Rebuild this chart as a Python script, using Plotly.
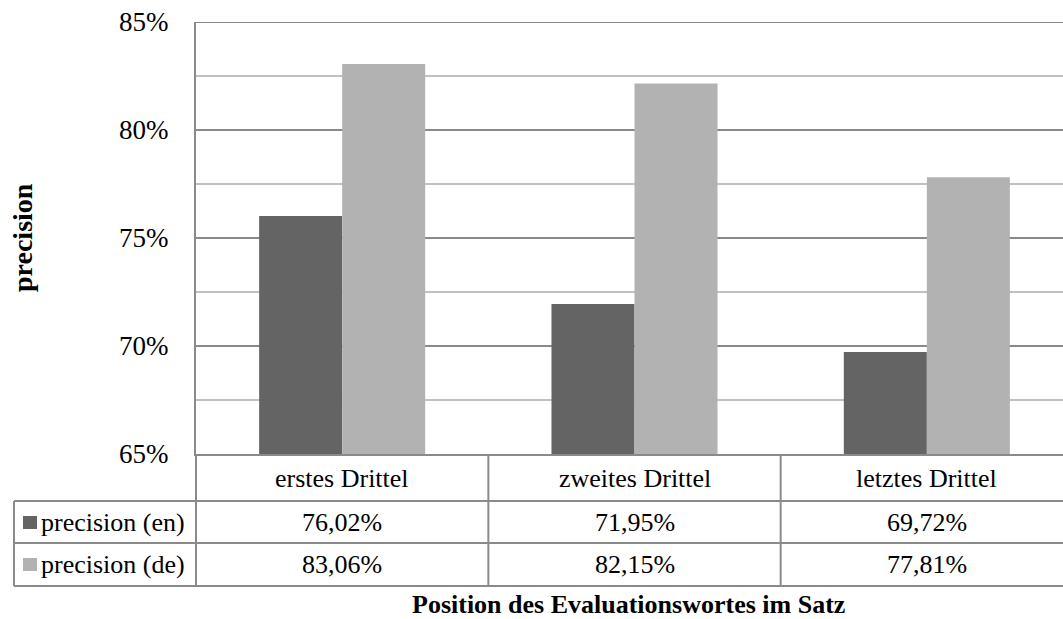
import plotly.graph_objects as go

# Data
categories = ["erstes Drittel", "zweites Drittel", "letztes Drittel"]
series_names = ["precision (en)", "precision (de)"]
precision_en = [76.02, 71.95, 69.72]
precision_de = [83.06, 82.15, 77.81]
series_values = [precision_en, precision_de]
series_colors = ["#646464", "#b2b2b2"]
y_min, y_max = 65, 85

FONT = "Liberation Serif, Times New Roman, serif"
W, H = 1063, 619
L, T, B = 196, 22, 165          # plot area margins (px)
PW, PH = W - L, H - T - B       # plot area size (px)
TXT = 26

def px_x(p):
    return (p - L) / PW

def px_y(p):
    return (H - B - p) / PH

fig = go.Figure()
xs = list(range(len(categories)))
for name, vals, col in zip(series_names, series_values, series_colors):
    fig.add_trace(go.Bar(x=xs, y=vals, name=name, marker_color=col,
                         marker_line_width=0, showlegend=False))

line_col = "#8a8a8a"
shapes = []
annotations = []

# top gridline of the plot area
shapes.append(dict(type="line", xref="paper", yref="y", x0=0, x1=1.02, y0=y_max, y1=y_max,
                   line=dict(color="#898989", width=2)))

# data table rows (pixel y of the horizontal rules)
row_lines = [501, 543, 586]
for yp in row_lines:
    shapes.append(dict(type="line", xref="paper", yref="paper",
                       x0=px_x(14), x1=1.02, y0=px_y(yp), y1=px_y(yp),
                       line=dict(color=line_col, width=2)))
# vertical rules: axis line extension, legend column border, category separators
shapes.append(dict(type="line", xref="paper", yref="paper", x0=0, x1=0,
                   y0=0, y1=px_y(586), line=dict(color=line_col, width=2)))
shapes.append(dict(type="line", xref="paper", yref="paper", x0=px_x(14), x1=px_x(14),
                   y0=px_y(501), y1=px_y(586), line=dict(color=line_col, width=2)))
for k in range(len(categories) - 1):
    shapes.append(dict(type="line", xref="x", yref="paper", x0=k + 0.5, x1=k + 0.5,
                       y0=0, y1=px_y(586), line=dict(color=line_col, width=2)))

# category header row
for i, c in enumerate(categories):
    annotations.append(dict(x=i, y=px_y(478), xref="x", yref="paper", text=c,
                            xanchor="center", yanchor="middle", showarrow=False,
                            font=dict(size=TXT, color="#000000", family=FONT)))

# value rows with legend keys
row_centers = [522, 564]
for r, (name, vals, col) in enumerate(zip(series_names, series_values, series_colors)):
    yc = row_centers[r]
    shapes.append(dict(type="rect", xref="paper", yref="paper",
                       x0=px_x(23), x1=px_x(37), y0=px_y(yc + 7), y1=px_y(yc - 6),
                       fillcolor=col, line=dict(width=0)))
    annotations.append(dict(x=px_x(39), y=px_y(yc), xref="paper", yref="paper", text=name,
                            xanchor="left", yanchor="middle", showarrow=False,
                            font=dict(size=TXT, color="#000000", family=FONT)))
    for i, v in enumerate(vals):
        label = f"{v:.2f}".replace(".", ",") + "%"
        annotations.append(dict(x=i, y=px_y(yc), xref="x", yref="paper", text=label,
                                xanchor="center", yanchor="middle", showarrow=False,
                                font=dict(size=TXT, color="#000000", family=FONT)))

# axis titles
annotations.append(dict(x=px_x(628), y=px_y(604), xref="paper", yref="paper",
                        text="<b>Position des Evaluationswortes im Satz</b>", showarrow=False,
                        xanchor="center", yanchor="middle",
                        font=dict(size=26, color="#000000", family=FONT)))
annotations.append(dict(x=px_x(22), y=px_y(238), xref="paper", yref="paper",
                        text="<b>precision</b>", textangle=-90, showarrow=False,
                        xanchor="center", yanchor="middle",
                        font=dict(size=28, color="#000000", family=FONT)))

fig.update_layout(
    width=W, height=H,
    margin=dict(l=L, r=0, t=T, b=B, pad=0),
    paper_bgcolor="white", plot_bgcolor="white",
    barmode="group", bargap=0.432, bargroupgap=0,
    shapes=shapes, annotations=annotations,
    font=dict(family=FONT, color="#000000"),
)
fig.update_xaxes(range=[-0.5, 2.5 - 10 / 292], showticklabels=False, showgrid=False,
                 zeroline=False, showline=True, linecolor=line_col, linewidth=2, ticks="")
fig.update_yaxes(range=[y_min, y_max], dtick=5, tick0=65, ticksuffix="%",
                 showgrid=True, gridcolor="#898989", gridwidth=2,
                 minor=dict(dtick=2.5, tick0=65, showgrid=True, gridcolor="#c0c0c0", gridwidth=2),
                 showline=True, linecolor=line_col, linewidth=2, zeroline=False,
                 ticks="", ticklabelstandoff=20,
                 tickfont=dict(size=27, family=FONT, color="#000000"))

fig.write_html("out.html")
